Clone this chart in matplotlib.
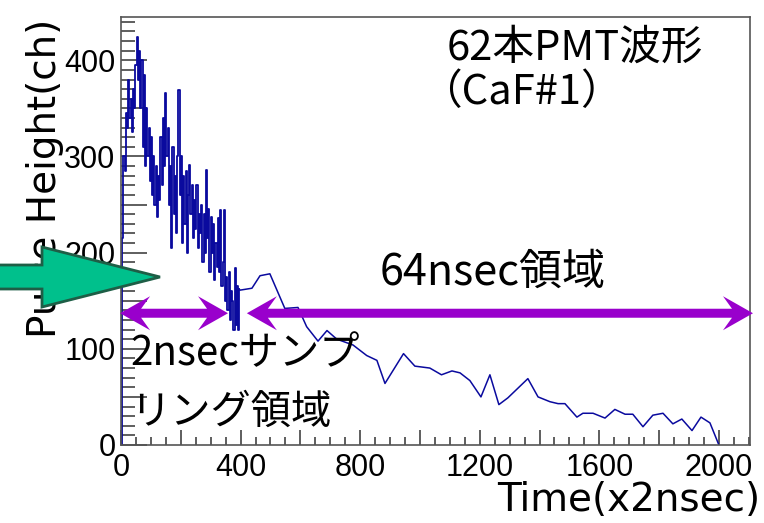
"""
PMT waveform (62 PMTs, CaF#1) - 2 nsec sampling then 64 nsec region
"""

import numpy as np
import matplotlib.pyplot as plt
from matplotlib.patches import FancyArrow, Polygon
from matplotlib.transforms import IdentityTransform
from matplotlib.ticker import MultipleLocator, FuncFormatter

# ============================================================
# Data
# ============================================================
# fine region: one value per 4 time units (x2nsec)
fine_step = 4
fine_vals = [0, 215, 300, 285, 345, 330, 380, 340, 360, 325, 370, 350, 395,
             424, 380, 410, 350, 400, 310, 385, 290, 350, 300, 330, 275,
             320, 260, 300, 250, 290, 237, 280, 255, 320, 270, 340, 290,
             366, 300, 330, 250, 290, 205, 310, 240, 280, 220, 300, 369,
             260, 300, 210, 280, 230, 285, 200, 260, 291, 240, 270, 215,
             255, 225, 270, 205, 240, 220, 250, 190, 240, 200, 286, 215,
             245, 180, 237, 200, 230, 172, 210, 185, 236, 180, 244, 165,
             190, 244, 150, 175, 140, 180, 130, 160, 150, 120, 184, 125,
             165, 120, 162]

# coarse region (64 nsec sampling)
coarse_t = [398, 438, 465, 498, 548, 592, 621, 659, 689, 722, 776, 822, 856,
            883, 945, 983, 1033, 1072, 1107, 1134, 1167, 1204, 1234, 1264,
            1294, 1361, 1395, 1435, 1462, 1485, 1525, 1545, 1579, 1619, 1652,
            1686, 1712, 1746, 1779, 1813, 1846, 1876, 1910, 1940, 1970, 2000]
coarse_v = [161, 163, 176, 178, 142, 143, 123, 108, 119, 110, 104, 93, 88,
            64, 95, 82, 80, 73, 77, 75, 67, 50, 73, 42, 49, 69, 50, 45, 43,
            43, 29, 33, 33, 28, 37, 32, 32, 19, 31, 33, 22, 27, 15, 29, 23, 0]

x_max = 2104
y_max = 445

# region arrows (time units) and their height (ch)
fast_region = (-3, 358)
slow_region = (421, 2114)
arrow_y = 137

line_col = '#0A0A9E'
purple = '#9900CC'
jp_font = ['Noto Sans CJK JP', 'DejaVu Sans']

plt.rcParams['font.family'] = 'Liberation Sans'

# ============================================================
# Figure
# ============================================================
W, H = 764, 523
fig = plt.figure(figsize=(W / 100, H / 100), dpi=100)
ax = fig.add_axes([121 / W, 78 / H, 629 / W, 428 / H])


def fx(px):
    return px / W


def fy(py):
    return 1 - py / H


fine_t = np.arange(len(fine_vals)) * fine_step
ax.step(fine_t, fine_vals, where='post', color=line_col, lw=1.3)
ax.plot([fine_t[-1]] + coarse_t, [fine_vals[-1]] + coarse_v,
        color=line_col, lw=1.1)

ax.set_xlim(0, x_max)
ax.set_ylim(0, y_max)

# ROOT-like ticks
ax.xaxis.set_major_locator(MultipleLocator(200))
ax.xaxis.set_minor_locator(MultipleLocator(50))
ax.yaxis.set_major_locator(MultipleLocator(50))
ax.yaxis.set_minor_locator(MultipleLocator(10))
ax.xaxis.set_major_formatter(FuncFormatter(
    lambda v, p: f"{int(round(v))}" if round(v) % 400 == 0 else ""))
ax.yaxis.set_major_formatter(FuncFormatter(
    lambda v, p: f"{int(round(v))}" if round(v) % 100 == 0 else ""))
ax.tick_params(axis='x', which='major', direction='in', length=11,
               width=1.1, color='#333333', pad=6, labelsize=22)
ax.tick_params(axis='x', which='minor', direction='in', length=6,
               width=1.1, color='#333333')
ax.tick_params(axis='y', which='major', direction='in', length=19,
               width=1.1, color='#333333', pad=4, labelsize=22)
ax.tick_params(axis='y', which='minor', direction='in', length=10,
               width=1.1, color='#333333')
for sp in ax.spines.values():
    sp.set_color('#555555')
    sp.set_linewidth(1.2)

# axis titles
fig.text(fx(760), fy(500), "Time(x2nsec)", ha='right', va='center',
         fontsize=28, family='DejaVu Sans')
fig.text(fx(45), fy(178), "Pulse Height(ch)", ha='center', va='center',
         rotation=90, fontsize=28, family='DejaVu Sans')


# region arrows: double headed with swept-back barbs (sizes in pixels)
def double_arrow(x0, x1, y, head=30, barb=17, notch=21, shaft=4.5):
    (L, yc), (R, _) = ax.transData.transform([(x0, y), (x1, y)])
    pts = [(L, yc), (L + head, yc + barb), (L + notch, yc + shaft),
           (R - notch, yc + shaft), (R - head, yc + barb), (R, yc),
           (R - head, yc - barb), (R - notch, yc - shaft),
           (L + notch, yc - shaft), (L + head, yc - barb)]
    fig.add_artist(Polygon(pts, closed=True, facecolor=purple, lw=0,
                           transform=IdentityTransform(), zorder=3))


for x0, x1 in [fast_region, slow_region]:
    double_arrow(x0, x1, arrow_y)

# annotations
fig.text(fx(447), fy(48), "62本PMT波形", ha='left', va='center',
         fontsize=30, family=jp_font)
fig.text(fx(420), fy(93), "（CaF#1）", ha='left', va='center',
         fontsize=30, family=jp_font)
fig.text(fx(380), fy(273), "64nsec領域", ha='left', va='center',
         fontsize=31, family=jp_font)
fig.text(fx(130), fy(354), "2nsecサンプ", ha='left', va='center',
         fontsize=29, family=jp_font)
fig.text(fx(130), fy(412), "リング領域", ha='left', va='center',
         fontsize=29, family=jp_font)

# big green pointer on the left
green = FancyArrow(-0.2, 2.46, 1.8, 0, width=0.24, head_width=0.60,
                   head_length=1.18, length_includes_head=True,
                   facecolor='#00C08C', edgecolor='#1E5E46', lw=2,
                   transform=fig.dpi_scale_trans, zorder=5)
fig.add_artist(green)

fig.savefig("out.png", dpi=100)
